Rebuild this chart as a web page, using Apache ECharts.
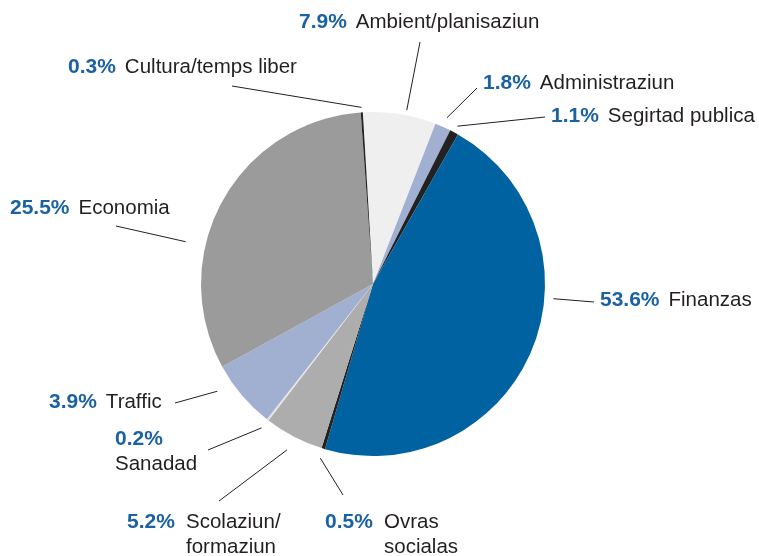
<!DOCTYPE html>
<html>
<head>
<meta charset="utf-8">
<script src="https://cdn.jsdelivr.net/npm/echarts@6/dist/echarts.min.js"></script>
<style>html,body{margin:0;background:#fff}#main{width:759px;height:556px}</style>
</head>
<body>
<div id="main"></div>
<script>
// categories, clockwise from the top
var names = ['Ambient/planisaziun', 'Administraziun', 'Segirtad publica', 'Finanzas', 'Ovras\nsocialas',
    'Scolaziun/\nformaziun', 'Sanadad', 'Traffic', 'Economia', 'Cultura/temps liber'];
// printed shares (%)
var shares = [7.9, 1.8, 1.1, 53.6, 0.5, 5.2, 0.2, 3.9, 25.5, 0.3];
// slice sizes as drawn in the picture (they don't follow the printed shares)
var sliceSizes = [6.86, 1.5, 0.81, 46.28, 0.33, 5.56, 0.19, 6.42, 31.86, 0.19];
var colors = ['#efefef', '#a1afd1', '#222222', '#0062a1', '#222222', '#adadad', '#e4e4e4', '#a1afd1', '#9b9b9b', '#222222'];

// where each label goes (left/top of text), where its line ends, how far out the line starts
var spots = [
    {x: 299, y: 10, end: [420, 42], reach: 177},
    {x: 483, y: 71, end: [477, 88], reach: 182},
    {x: 551, y: 104, end: [545, 117], reach: 179},
    {x: 600, y: 288, end: [594, 302], reach: 181},
    {x: 325, y: 510, end: [343, 495], reach: 182, hang: true},
    {x: 127, y: 510, end: [219, 501], reach: 187, hang: true},
    {x: 115, y: 427, end: [208, 450], reach: 182, stack: true},
    {x: 49, y: 390, end: [175, 403], reach: 189},
    {x: 10, y: 196, end: [116, 226], reach: 192},
    {x: 68, y: 55, end: [232, 86], reach: 177}
];

var cx = 373, cy = 284, R = 172, startDeg = 93.4;

var total = sliceSizes.reduce(function (a, b) { return a + b; }, 0);

// line start: on a ring just outside the pie, inside the slice's angle
function lineStart(i) {
    var before = 0;
    for (var k = 0; k < i; k++) before += sliceSizes[k];
    var a0 = (90 - startDeg) + before / total * 360;
    var a1 = a0 + sliceSizes[i] / total * 360;
    var w = a1 - a0;
    var a = (a0 + a1) / 2;
    if (w > 21) {
        var e = spots[i].end;
        a = Math.atan2(e[0] - cx, cy - e[1]) * 180 / Math.PI;
        if (a < a0 - 180) a += 360;
        var lo = a0 + w * 0.25, hi = a1 - w * 0.25;
        if (w < 60) a = Math.min(hi, Math.max(lo, a));
    }
    var r = a * Math.PI / 180, d = spots[i].reach;
    return [cx + d * Math.sin(r), cy - d * Math.cos(r)];
}

var data = names.map(function (n, i) {
    return {name: n, value: sliceSizes[i], itemStyle: {color: colors[i]}};
});

var myChart = echarts.init(document.getElementById('main'));
var option = {
    animation: false,
    series: [{
        type: 'pie',
        center: [cx, cy],
        radius: [0, R],
        startAngle: startDeg,
        clockwise: true,
        avoidLabelOverlap: false,
        silent: true,
        itemStyle: {borderWidth: 0},
        label: {
            show: true,
            position: 'outside',
            width: 300,
            overflow: 'none',
            lineHeight: 25,
            formatter: function (p) {
                var i = p.dataIndex;
                var parts = names[i].split('\n');
                var pct = shares[i].toFixed(1) + '%';
                if (spots[i].stack) return '{p|' + pct + '}\n{n|' + parts.join(' ') + '}';
                if (spots[i].hang) {
                    var s = '{pw|' + pct + '}{n|' + parts[0] + '}';
                    for (var k = 1; k < parts.length; k++) s += '\n{pw| }{n|' + parts[k] + '}';
                    return s;
                }
                return '{p|' + pct + '}{s| }{n|' + parts.join(' ') + '}';
            },
            rich: {
                p: {fontFamily: 'Liberation Sans', fontWeight: 'bold', fontSize: 21, color: '#1a62a2', lineHeight: 25},
                pw: {fontFamily: 'Liberation Sans', fontWeight: 'bold', fontSize: 21, color: '#1a62a2', lineHeight: 25, width: 59},
                s: {fontSize: 20, width: 9, lineHeight: 25},
                n: {fontFamily: 'Liberation Sans', fontSize: 20.5, color: '#231f20', lineHeight: 25}
            }
        },
        labelLine: {show: true, lineStyle: {color: '#231f20', width: 1}},
        labelLayout: function (params) {
            var i = params.dataIndex;
            return {
                x: spots[i].x,
                y: spots[i].y,
                align: 'left',
                verticalAlign: 'top',
                labelLinePoints: [lineStart(i), spots[i].end]
            };
        },
        emphasis: {disabled: true},
        data: data
    }]
};
myChart.setOption(option);
</script>
</body>
</html>
